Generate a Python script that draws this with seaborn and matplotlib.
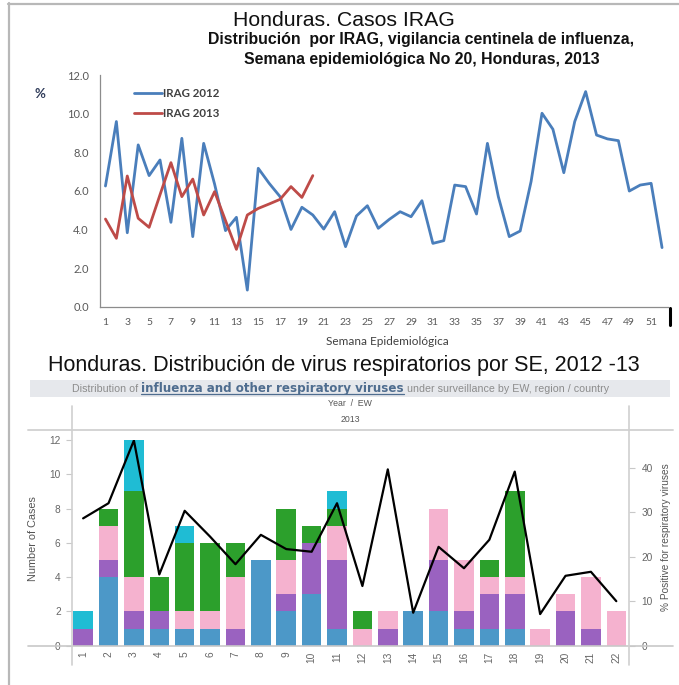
import numpy as np
import pandas as pd
import matplotlib
matplotlib.use("Agg")
import matplotlib.pyplot as plt
import seaborn as sns
from matplotlib.lines import Line2D
from matplotlib.patches import Rectangle

# ---------------- data: top chart (IRAG %) ----------------
weeks_2012 = list(range(1, 53))
irag_2012 = [6.25, 9.59, 3.83, 8.38, 6.79, 7.60, 4.37, 8.72, 3.63, 8.46,
             6.35, 3.94, 4.63, 0.86, 7.17, 6.39, 5.70, 4.00, 5.15, 4.75,
             4.02, 4.92, 3.11, 4.70, 5.23, 4.06, 4.52, 4.92, 4.66, 5.49,
             3.28, 3.42, 6.30, 6.22, 4.80, 8.46, 5.70, 3.63, 3.92, 6.48,
             10.02, 9.19, 6.94, 9.59, 11.14, 8.89, 8.69, 8.60, 5.99, 6.30,
             6.39, 3.06]
weeks_2013 = list(range(1, 21))
irag_2013 = [4.54, 3.54, 6.77, 4.58, 4.11, 5.80, 7.46, 5.70, 6.61, 4.75,
             5.96, 4.46, 2.97, 4.75, 5.09, 5.32, 5.56, 6.22, 5.66, 6.79]
irag_xticks = list(range(1, 53, 2))
irag_yticks = [0, 2, 4, 6, 8, 10, 12]
series_names = ["IRAG 2012", "IRAG 2013"]

# ---------------- data: bottom chart (viruses by EW) ----------------
ew_labels = [str(i) for i in range(1, 23)]
virus_blue = [0, 4, 1, 1, 1, 1, 0, 5, 2, 3, 1, 0, 0, 2, 2, 1, 1, 1, 0, 0, 0, 0]
virus_purple = [1, 1, 1, 1, 0, 0, 1, 0, 1, 3, 4, 0, 1, 0, 3, 1, 2, 2, 0, 2, 1, 0]
virus_pink = [0, 2, 2, 0, 1, 1, 3, 0, 2, 0, 2, 1, 1, 0, 3, 3, 1, 1, 1, 1, 3, 2]
virus_green = [0, 1, 5, 2, 4, 4, 2, 0, 3, 1, 1, 1, 0, 0, 0, 0, 1, 5, 0, 0, 0, 0]
virus_cyan = [1, 0, 3, 0, 1, 0, 0, 0, 0, 0, 1, 0, 0, 0, 0, 0, 0, 0, 0, 0, 0, 0]
pct_positive = [28.6, 32.0, 46.1, 16.0, 30.3, 24.5, 18.3, 24.9, 21.7, 21.1, 32.0,
                13.4, 39.6, 7.4, 22.2, 17.4, 23.8, 39.1, 7.1, 15.7, 16.6, 10.0]
cases_yticks = [0, 2, 4, 6, 8, 10, 12]
pct_yticks = [0, 10, 20, 30, 40]

# ---------------- styling ----------------
sns.set_style("white")
plt.rcParams["font.family"] = ["Liberation Sans", "DejaVu Sans"]
TITLE_FONT = "Liberation Sans"
EXCEL = "Lato"

W, H = 679, 685
fig = plt.figure(figsize=(W / 100, H / 100), dpi=100)
fig.patch.set_facecolor("white")


def fx(x):
    return x / W


def fy(y):
    return 1 - y / H


def axrect(x0, y0, x1, y1):
    return [fx(x0), fy(y1), (x1 - x0) / W, (y1 - y0) / H]


def hline(y, x0, x1, color, lw):
    fig.add_artist(Line2D([fx(x0), fx(x1)], [fy(y), fy(y)], color=color, lw=lw,
                          transform=fig.transFigure))


def vline(x, y0, y1, color, lw):
    fig.add_artist(Line2D([fx(x), fx(x)], [fy(y0), fy(y1)], color=color, lw=lw,
                          transform=fig.transFigure))


# screenshot frame
vline(8.5, 3, 685, "#b8b8b8", 1.6)
hline(3.5, 8, 679, "#b8b8b8", 1.6)

# ================= TOP CHART =================
fig.text(fx(343.5), fy(26.5), "Honduras. Casos IRAG", ha="center", va="baseline",
         fontsize=15.3, family=TITLE_FONT, color="#111111")
fig.text(fx(421.5), fy(44), "Distribución  por IRAG, vigilancia centinela de influenza,",
         ha="center", va="baseline", fontsize=11.4, weight="bold", family=TITLE_FONT,
         color="#111111")
fig.text(fx(422), fy(64), "Semana epidemiológica No 20, Honduras, 2013",
         ha="center", va="baseline", fontsize=11.4, weight="bold", family=TITLE_FONT,
         color="#111111")

ax1 = fig.add_axes(axrect(100, 75, 667.5, 306.7))
df_top = pd.concat([
    pd.DataFrame({"week": weeks_2012, "pct": irag_2012, "serie": series_names[0]}),
    pd.DataFrame({"week": weeks_2013, "pct": irag_2013, "serie": series_names[1]}),
])
palette_top = {series_names[0]: "#4A7EBB", series_names[1]: "#BE4B48"}
sns.lineplot(data=df_top, x="week", y="pct", hue="serie", palette=palette_top,
             linewidth=2.0, legend=False, ax=ax1)
ax1.set_xlim(0.5, 52.5)
ax1.set_ylim(0, 12)
ax1.set_xlabel("")
ax1.set_ylabel("")
for s in ["top", "right"]:
    ax1.spines[s].set_visible(False)
for s in ["left", "bottom"]:
    ax1.spines[s].set_color("#8c8c8c")
    ax1.spines[s].set_linewidth(0.9)
ax1.set_xticks(irag_xticks)
ax1.set_xticklabels([str(w) for w in irag_xticks])
ax1.set_xticks(np.arange(0.5, 53, 1.0), minor=True)
ax1.set_yticks(irag_yticks)
ax1.set_yticklabels([f"{v:.1f}" for v in irag_yticks])
ax1.tick_params(axis="x", which="major", length=0, pad=8, labelsize=7.5, labelcolor="#595959")
ax1.tick_params(axis="x", which="minor", length=4, width=0.8, color="#8c8c8c", direction="out")
ax1.tick_params(axis="y", which="major", length=4, width=0.8, color="#8c8c8c",
                direction="out", pad=4, labelsize=8, labelcolor="#595959")
for lab in ax1.get_xticklabels() + ax1.get_yticklabels():
    lab.set_family(EXCEL)
ax1.grid(False)

leg = ax1.legend(handles=[Line2D([], [], color=palette_top[n], lw=2.0) for n in series_names],
                 labels=series_names, loc="upper left", bbox_to_anchor=(0.060, 0.942),
                 frameon=False, handlelength=2.4, handletextpad=0.15, labelspacing=0.78,
                 borderpad=0, borderaxespad=0,
                 prop=dict(weight="bold", size=8.3, family=EXCEL))
for t in leg.get_texts():
    t.set_color("#404040")

fig.text(fx(39.5), fy(93.5), "%", ha="center", va="center", fontsize=9.5, weight="bold",
         color="#2F3B59", family=EXCEL)
fig.text(fx(387.5), fy(345), "Semana Epidemiológica", ha="center", va="baseline",
         fontsize=8.5, color="#404040", family=EXCEL)
vline(670, 308, 325, "black", 2.2)

# ================= BOTTOM CHART =================
fig.text(fx(343.5), fy(371), "Honduras. Distribución de virus respiratorios por SE, 2012 -13",
         ha="center", va="baseline", fontsize=15.5, family=TITLE_FONT, color="#111111")

fig.add_artist(Rectangle((fx(30), fy(397)), (670 - 30) / W, 17 / H, transform=fig.transFigure,
                         facecolor="#e6e8ec", edgecolor="none"))
renderer = fig.canvas.get_renderer()
x_cursor = 72.0
pieces = [
    ("Distribution of ", dict(color="#8c8c8c", fontsize=7.7, family="Liberation Sans"), False),
    ("influenza and other respiratory viruses",
     dict(color="#4f6d8f", fontsize=8.6, weight="bold", family="DejaVu Sans"), True),
    (" under surveillance by EW, region / country",
     dict(color="#8c8c8c", fontsize=7.7, family="Liberation Sans"), False),
]
for text, kw, underline in pieces:
    t = fig.text(fx(x_cursor), fy(392), text, ha="left", va="baseline", **kw)
    bb = t.get_window_extent(renderer)
    if underline:
        hline(394, bb.x0, bb.x1, "#4f6d8f", 0.9)
    x_cursor += bb.width

fig.text(fx(350), fy(404), "Year  /  EW", ha="center", va="center", fontsize=6.3, color="#555555")
fig.text(fx(350), fy(420), "2013", ha="center", va="center", fontsize=6.3, color="#555555")
hline(429.5, 28, 673, "#d4d4d4", 1.4)

ax2 = fig.add_axes(axrect(71.7, 440, 629, 645.7))
stack = np.array([virus_blue, virus_purple, virus_pink, virus_green, virus_cyan])
cum = np.cumsum(stack, axis=0)
colors = ["#4C98C8", "#9A62C0", "#F5B2CF", "#2CA02C", "#1FBCD4"]
for i in reversed(range(len(colors))):
    sns.barplot(x=ew_labels, y=cum[i], color=colors[i], saturation=1, width=0.77,
                errorbar=None, linewidth=0, ax=ax2)
ax2.set_xlim(-0.45, 21.5)
ax2.set_ylim(0, 12)
ax2.set_xticks(range(len(ew_labels)))
ax2.set_xticklabels(ew_labels, rotation=90)
ax2.set_xticks(np.arange(-0.5, len(ew_labels), 1.0), minor=True)
ax2.set_yticks(cases_yticks)
ax2.tick_params(axis="x", which="major", length=0, pad=4, labelsize=7.3, labelcolor="#666666")
ax2.tick_params(axis="x", which="minor", length=4, width=0.8, color="#d0d0d0", direction="out")
ax2.tick_params(axis="y", which="major", length=4, width=0.8, color="#c8c8c8",
                direction="out", pad=4, labelsize=7.3, labelcolor="#666666")
ax2.set_xlabel("")
ax2.set_ylabel("Number of Cases", fontsize=7.8, color="#555555")
ax2.yaxis.set_label_coords((37.5 - 71.7) / (629 - 71.7), (645.7 - 538.5) / (645.7 - 440))
for s in ax2.spines.values():
    s.set_visible(False)

ax3 = ax2.twinx()
sns.lineplot(x=np.arange(len(pct_positive)), y=pct_positive, color="black", linewidth=1.6, ax=ax3)
ax3.set_ylim(0, 46.2)
ax3.set_yticks(pct_yticks)
ax3.tick_params(axis="y", which="major", length=4, width=0.8, color="#c8c8c8",
                direction="out", pad=5, labelsize=7.3, labelcolor="#666666")
ax3.set_ylabel("% Positive for respiratory viruses", fontsize=7.3, color="#555555")
ax3.yaxis.set_label_coords((661 - 71.7) / (629 - 71.7), (645.7 - 537.5) / (645.7 - 440))
for s in ax3.spines.values():
    s.set_visible(False)
ax2.set_xlim(-0.45, 21.5)

hline(645.7, 28, 673, "#c8c8c8", 1.2)
vline(71.7, 406, 665, "#d0d0d0", 1.2)
vline(629, 406, 665, "#d0d0d0", 1.2)

fig.savefig("out.png", dpi=100, facecolor="white")
